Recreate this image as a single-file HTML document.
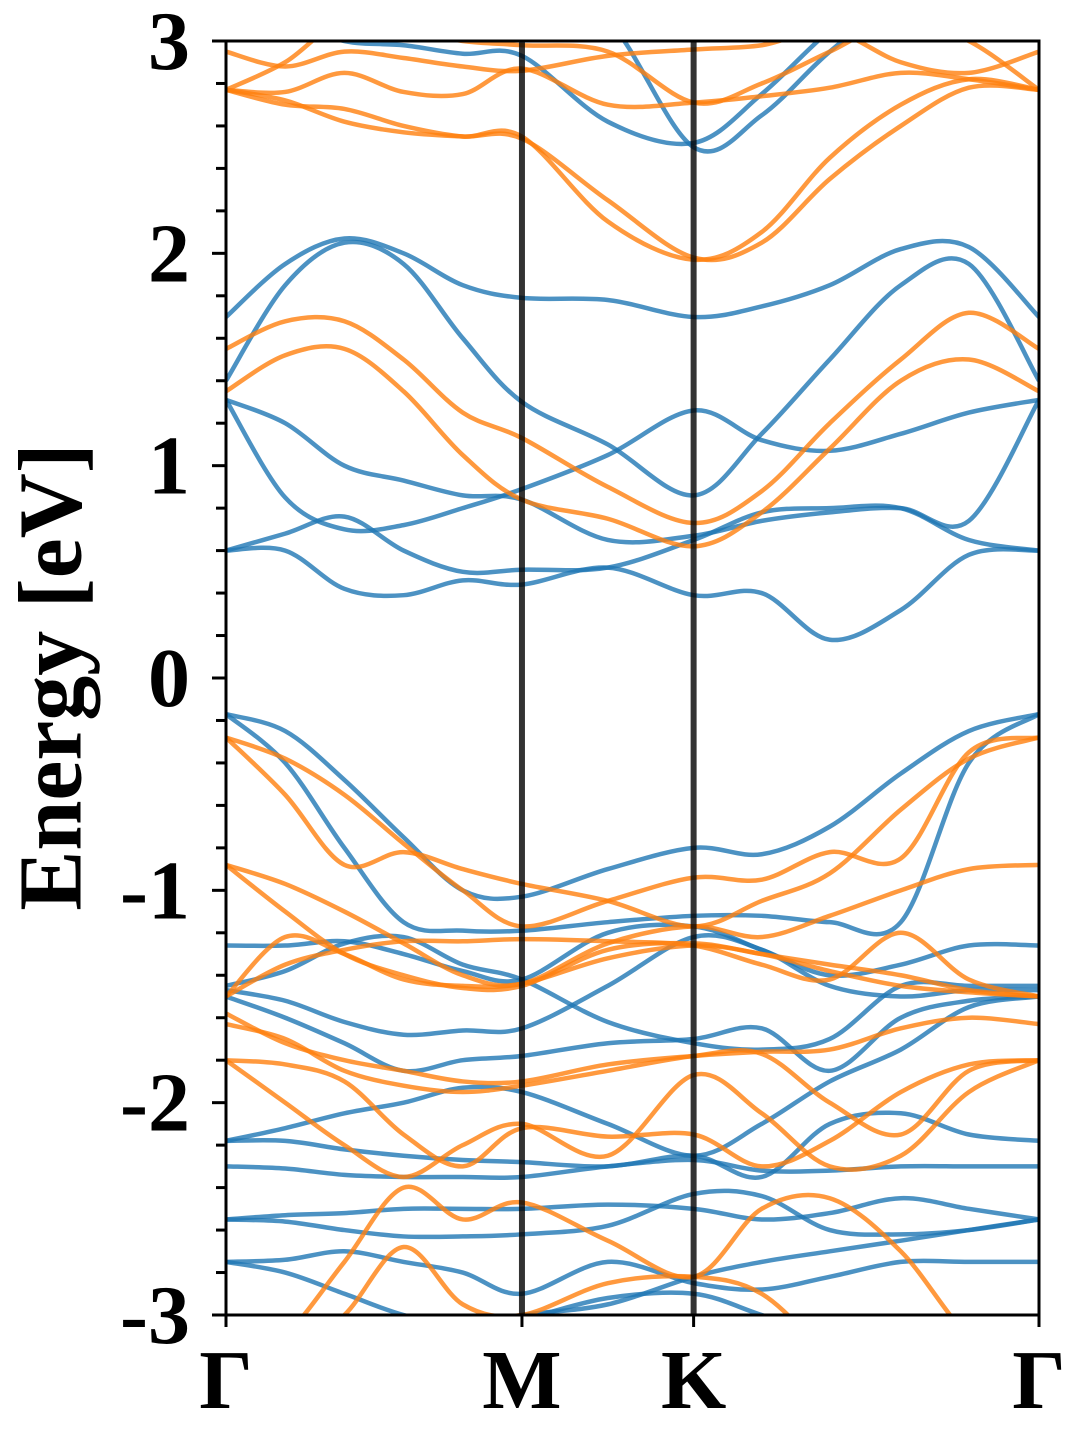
<!DOCTYPE html>
<html><head><meta charset="utf-8"><style>
html,body{margin:0;padding:0;background:#fff;}
svg{display:block;}
svg text{font-family:"Liberation Serif",serif;font-weight:700;}
</style></head><body>
<svg id="chart" width="1080" height="1440" viewBox="0 0 1080 1440">
<defs><clipPath id="pc"><rect x="226" y="41" width="813" height="1274"/></clipPath></defs>
<g id="bands" clip-path="url(#pc)"></g>
<g id="axes"></g>
<text x="60" y="677" text-anchor="middle" dominant-baseline="middle" font-size="90" transform="rotate(-90 60 677)">Energy [eV]</text>
</svg>
<script>
const kPts = [0,0.2,0.4,0.6,0.8,1.0,1.29,1.58,1.81,2.04,2.28,2.51,2.747];
const symLabels = ["Γ","M","K","Γ"];
const symPos = [0,1.0,1.58,2.747];
const yTicks = [-3,-2,-1,0,1,2,3];
const blueBands = [
[0.60,0.60,0.42,0.39,0.46,0.44,0.52,0.39,0.40,0.18,0.32,0.58,0.60],
[0.60,0.68,0.76,0.60,0.50,0.51,0.52,0.65,0.78,0.80,0.80,0.65,0.60],
[1.31,0.85,0.70,0.72,0.80,0.89,1.05,1.26,1.12,1.07,1.15,1.25,1.31],
[1.31,1.20,1.00,0.93,0.86,0.84,0.65,0.67,0.74,0.78,0.80,0.74,1.31],
[1.40,1.85,2.05,1.95,1.60,1.30,1.10,0.86,1.15,1.50,1.85,1.95,1.40],
[1.70,1.95,2.07,2.00,1.85,1.79,1.78,1.70,1.75,1.85,2.02,2.03,1.70],
[3.30,3.10,3.00,2.98,2.94,2.93,2.62,2.52,2.75,3.05,3.30,3.30,3.30],
[3.30,3.30,3.30,3.30,3.30,3.30,3.10,2.50,2.65,2.95,3.20,3.30,3.30],
[-0.17,-0.25,-0.48,-0.75,-1.00,-1.03,-0.90,-0.80,-0.83,-0.70,-0.45,-0.25,-0.17],
[-0.17,-0.40,-0.80,-1.15,-1.19,-1.19,-1.15,-1.12,-1.12,-1.15,-1.15,-0.40,-0.17],
[-1.26,-1.26,-1.24,-1.30,-1.38,-1.42,-1.20,-1.17,-1.28,-1.40,-1.35,-1.26,-1.26],
[-1.45,-1.38,-1.25,-1.22,-1.35,-1.42,-1.62,-1.72,-1.75,-1.70,-1.45,-1.45,-1.45],
[-1.47,-1.52,-1.62,-1.68,-1.66,-1.65,-1.45,-1.22,-1.28,-1.45,-1.50,-1.47,-1.47],
[-1.50,-1.60,-1.72,-1.85,-1.80,-1.78,-1.72,-1.70,-1.65,-1.85,-1.60,-1.52,-1.50],
[-2.18,-2.12,-2.05,-2.00,-1.93,-1.95,-2.10,-2.25,-2.10,-1.90,-1.75,-1.55,-1.50],
[-2.18,-2.18,-2.22,-2.25,-2.27,-2.28,-2.30,-2.25,-2.35,-2.10,-2.05,-2.15,-2.18],
[-2.30,-2.31,-2.34,-2.35,-2.35,-2.35,-2.30,-2.27,-2.32,-2.32,-2.30,-2.30,-2.30],
[-2.55,-2.53,-2.52,-2.50,-2.50,-2.50,-2.48,-2.50,-2.55,-2.52,-2.45,-2.50,-2.55],
[-2.55,-2.56,-2.60,-2.63,-2.63,-2.62,-2.58,-2.43,-2.44,-2.60,-2.62,-2.60,-2.55],
[-2.75,-2.74,-2.70,-2.75,-2.80,-2.90,-2.75,-2.85,-2.88,-2.82,-2.75,-2.75,-2.75],
[-2.75,-2.80,-2.90,-3.00,-3.05,-3.00,-2.95,-2.82,-2.75,-2.70,-2.65,-2.60,-2.55],
[-3.30,-3.20,-3.15,-3.10,-3.05,-3.02,-2.92,-2.90,-3.00,-3.10,-3.20,-3.30,-3.30]
];
const orangeBands = [
[1.35,1.52,1.55,1.35,1.05,0.84,0.75,0.62,0.78,1.08,1.40,1.50,1.35],
[1.55,1.68,1.68,1.50,1.25,1.13,0.90,0.73,0.88,1.20,1.50,1.72,1.55],
[2.77,2.72,2.62,2.57,2.55,2.54,2.25,1.98,2.05,2.35,2.60,2.78,2.77],
[2.77,2.70,2.68,2.60,2.55,2.55,2.15,1.97,2.10,2.45,2.70,2.82,2.77],
[2.77,2.76,2.85,2.76,2.75,2.87,2.70,2.71,2.74,2.78,2.85,2.82,2.77],
[2.95,2.88,2.95,2.92,2.88,2.86,2.93,2.96,2.98,3.05,2.90,2.85,2.95],
[2.77,2.90,3.10,3.05,3.00,2.98,2.95,2.71,2.80,2.95,3.10,3.00,2.77],
[-0.28,-0.38,-0.55,-0.78,-1.00,-1.17,-1.05,-0.94,-0.95,-0.82,-0.85,-0.35,-0.28],
[-0.28,-0.55,-0.88,-0.82,-0.90,-0.97,-1.05,-1.17,-1.05,-0.92,-0.62,-0.38,-0.28],
[-0.88,-0.97,-1.10,-1.25,-1.40,-1.44,-1.25,-1.17,-1.22,-1.12,-1.00,-0.90,-0.88],
[-0.88,-1.10,-1.30,-1.40,-1.46,-1.45,-1.28,-1.25,-1.30,-1.35,-1.40,-1.47,-1.50],
[-1.50,-1.22,-1.30,-1.42,-1.45,-1.44,-1.32,-1.26,-1.30,-1.38,-1.45,-1.48,-1.50],
[-1.50,-1.35,-1.28,-1.24,-1.24,-1.23,-1.24,-1.26,-1.35,-1.42,-1.20,-1.42,-1.50],
[-1.58,-1.72,-1.80,-1.85,-1.90,-1.90,-1.82,-1.78,-1.76,-1.75,-1.65,-1.60,-1.63],
[-1.63,-1.70,-1.85,-1.92,-1.95,-1.92,-1.85,-1.78,-1.77,-2.00,-2.15,-1.85,-1.80],
[-1.80,-1.82,-1.90,-2.15,-2.30,-2.12,-2.16,-2.15,-2.30,-2.18,-1.95,-1.82,-1.80],
[-1.80,-2.00,-2.20,-2.35,-2.20,-2.10,-2.25,-1.87,-2.05,-2.30,-2.25,-1.95,-1.80],
[-3.30,-3.10,-2.75,-2.40,-2.55,-2.47,-2.65,-2.82,-2.50,-2.45,-2.70,-3.10,-3.30],
[-3.50,-3.20,-3.00,-2.68,-2.95,-3.00,-2.85,-2.82,-2.90,-3.20,-3.50,-3.50,-3.50]
];
const NS="http://www.w3.org/2000/svg";
const X0=226,X1=1039,Y0=1315,Y1=41,KMAX=2.747,EMIN=-3,EMAX=3;
const xs=k=>X0+(k/KMAX)*(X1-X0);
const ys=e=>Y0-(e-EMIN)/(EMAX-EMIN)*(Y0-Y1);
function pathD(vals){
  const p=vals.map((v,i)=>[xs(kPts[i]),ys(v)]);
  let d=`M${p[0][0]},${p[0][1]}`;
  for(let i=0;i<p.length-1;i++){
    const p0=p[Math.max(0,i-1)],p1=p[i],p2=p[i+1],p3=p[Math.min(p.length-1,i+2)];
    const c1=[p1[0]+(p2[0]-p0[0])/6,p1[1]+(p2[1]-p0[1])/6];
    const c2=[p2[0]-(p3[0]-p1[0])/6,p2[1]-(p3[1]-p1[1])/6];
    d+=`C${c1[0]},${c1[1]} ${c2[0]},${c2[1]} ${p2[0]},${p2[1]}`;
  }
  return d;
}
const bg=document.getElementById('bands');
function drawSet(set,color,name){
  set.forEach((vals,i)=>{
    const el=document.createElementNS(NS,'path');
    el.setAttribute('d',pathD(vals));
    el.setAttribute('fill','none');
    el.setAttribute('stroke',color);
    el.setAttribute('stroke-width','4.5');
    el.setAttribute('stroke-opacity','0.8');
    
    
    bg.appendChild(el);
  });
}
drawSet(blueBands,'#1f77b4','spin-up-band');
drawSet(orangeBands,'#ff7f0e','spin-down-band');
const ax=document.getElementById('axes');
function mk(tag,attrs,text){const e=document.createElementNS(NS,tag);for(const k in attrs)e.setAttribute(k,attrs[k]);if(text!==undefined)e.textContent=text;ax.appendChild(e);return e;}
symPos.forEach((k,i)=>{
  if(i>0&&i<symPos.length-1){
    const l=mk('line',{x1:xs(k),x2:xs(k),y1:Y1,y2:Y0,stroke:'#000','stroke-width':6,'stroke-opacity':0.8});
    
    
  }
  const t=mk('line',{x1:xs(k),x2:xs(k),y1:Y0,y2:Y0+12,stroke:'#000','stroke-width':3});
  
  
  const lb=mk('text',{x:xs(k),y:1408,'text-anchor':'middle','font-size':84},symLabels[i]);
  
  
});
for(let e=-3;e<=3.001;e+=0.2){
  const major=Math.abs(e-Math.round(e))<0.01;
  const t=mk('line',{x1:X0-(major?14:10),x2:X0,y1:ys(e),y2:ys(e),stroke:'#000','stroke-width':3});
  
  
}
yTicks.forEach(v=>{
  const lb=mk('text',{x:190,y:ys(v)+28,'text-anchor':'end','font-size':84},String(v));
  
  
});
const fr=mk('rect',{x:X0,y:Y1,width:X1-X0,height:Y0-Y1,fill:'none',stroke:'#000','stroke-width':3});


</script>
</body></html>
